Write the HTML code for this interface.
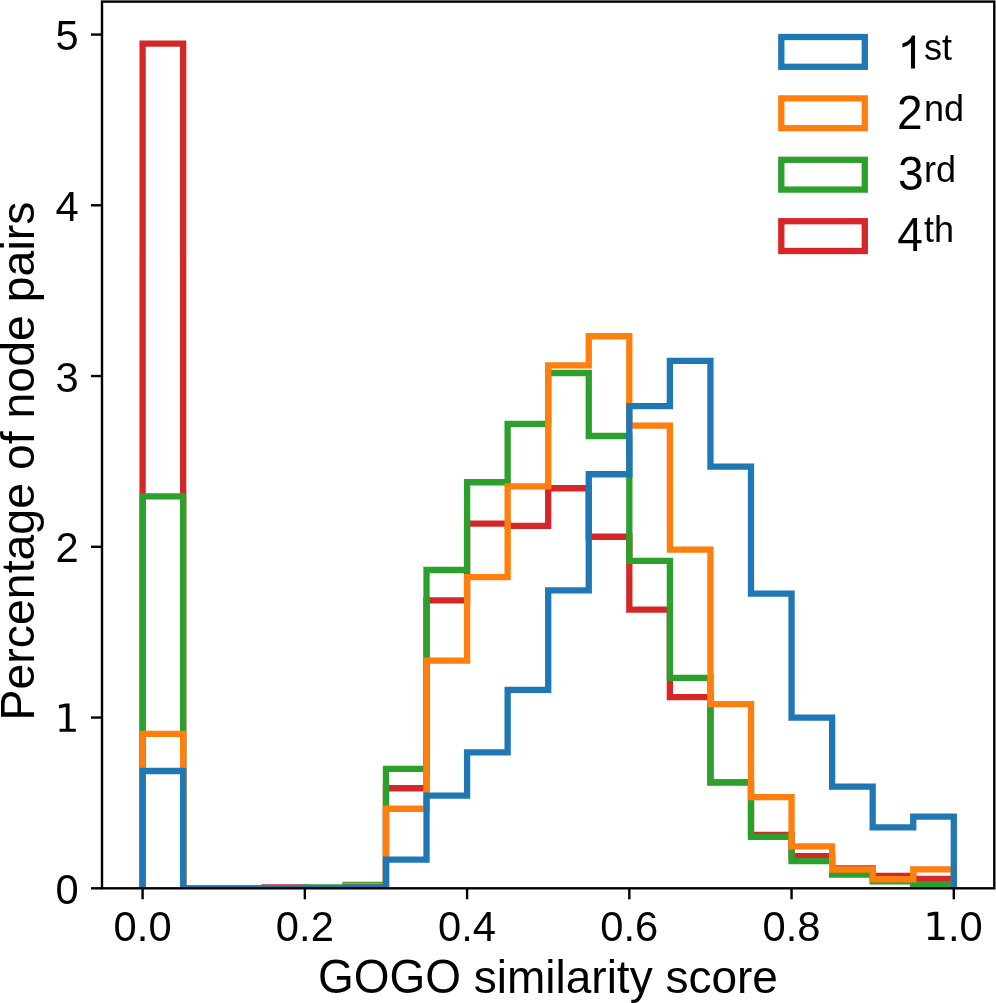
<!DOCTYPE html>
<html><head><meta charset="utf-8"><style>
html,body{margin:0;padding:0;background:#fff;}
svg{display:block;}
text{font-family:"Liberation Sans",sans-serif;fill:#000;}
</style></head><body>
<svg width="996" height="1003" viewBox="0 0 996 1003">
<rect x="0" y="0" width="996" height="1003" fill="#fff"/>
<defs><clipPath id="ax"><rect x="102.00" y="1.60" width="892.30" height="886.70"/></clipPath></defs>
<g clip-path="url(#ax)">
<path d="M142.60 888.30 L142.60 43.60 L183.16 43.60 L183.16 888.30 L223.72 888.30 L223.72 888.30 L264.28 888.30 L264.28 887.45 L304.84 887.45 L304.84 888.30 L345.40 888.30 L345.40 888.30 L385.96 888.30 L385.96 788.24 L426.52 788.24 L426.52 600.42 L467.08 600.42 L467.08 523.58 L507.64 523.58 L507.64 525.97 L548.20 525.97 L548.20 488.23 L588.76 488.23 L588.76 536.73 L629.32 536.73 L629.32 609.64 L669.88 609.64 L669.88 697.06 L710.44 697.06 L710.44 782.43 L751.00 782.43 L751.00 834.86 L791.56 834.86 L791.56 856.20 L832.12 856.20 L832.12 868.32 L872.68 868.32 L872.68 876.01 L913.24 876.01 L913.24 878.91 L953.80 878.91 L953.80 888.30" fill="none" stroke="#d62728" stroke-width="6.30" stroke-linejoin="miter" stroke-linecap="butt"/>
<path d="M142.60 888.30 L142.60 496.43 L183.16 496.43 L183.16 888.30 L223.72 888.30 L223.72 888.30 L264.28 888.30 L264.28 888.30 L304.84 888.30 L304.84 887.45 L345.40 887.45 L345.40 884.88 L385.96 884.88 L385.96 768.95 L426.52 768.95 L426.52 570.02 L467.08 570.02 L467.08 482.26 L507.64 482.26 L507.64 423.86 L548.20 423.86 L548.20 372.98 L588.76 372.98 L588.76 435.98 L629.32 435.98 L629.32 560.97 L669.88 560.97 L669.88 677.94 L710.44 677.94 L710.44 782.43 L751.00 782.43 L751.00 836.90 L791.56 836.90 L791.56 861.15 L832.12 861.15 L832.12 874.64 L872.68 874.64 L872.68 881.30 L913.24 881.30 L913.24 884.03 L953.80 884.03 L953.80 888.30" fill="none" stroke="#2ca02c" stroke-width="6.30" stroke-linejoin="miter" stroke-linecap="butt"/>
<path d="M142.60 888.30 L142.60 733.94 L183.16 733.94 L183.16 888.30 L223.72 888.30 L223.72 888.30 L264.28 888.30 L264.28 888.30 L304.84 888.30 L304.84 888.30 L345.40 888.30 L345.40 885.91 L385.96 885.91 L385.96 808.73 L426.52 808.73 L426.52 660.69 L467.08 660.69 L467.08 577.19 L507.64 577.19 L507.64 486.35 L548.20 486.35 L548.20 365.29 L588.76 365.29 L588.76 336.27 L629.32 336.27 L629.32 425.57 L669.88 425.57 L669.88 549.70 L710.44 549.70 L710.44 704.06 L751.00 704.06 L751.00 797.12 L791.56 797.12 L791.56 846.30 L832.12 846.30 L832.12 869.52 L872.68 869.52 L872.68 879.25 L913.24 879.25 L913.24 869.35 L953.80 869.35 L953.80 888.30" fill="none" stroke="#ff7f0e" stroke-width="6.30" stroke-linejoin="miter" stroke-linecap="butt"/>
<path d="M142.60 888.30 L142.60 770.99 L183.16 770.99 L183.16 888.30 L223.72 888.30 L223.72 888.30 L264.28 888.30 L264.28 888.30 L304.84 888.30 L304.84 888.30 L345.40 888.30 L345.40 887.45 L385.96 887.45 L385.96 859.61 L426.52 859.61 L426.52 795.58 L467.08 795.58 L467.08 752.38 L507.64 752.38 L507.64 689.89 L548.20 689.89 L548.20 590.34 L588.76 590.34 L588.76 474.23 L629.32 474.23 L629.32 406.10 L669.88 406.10 L669.88 360.85 L710.44 360.85 L710.44 466.72 L751.00 466.72 L751.00 593.59 L791.56 593.59 L791.56 717.72 L832.12 717.72 L832.12 786.53 L872.68 786.53 L872.68 827.34 L913.24 827.34 L913.24 816.58 L953.80 816.58 L953.80 888.30" fill="none" stroke="#1f77b4" stroke-width="6.30" stroke-linejoin="miter" stroke-linecap="butt"/>
</g>
<rect x="102.00" y="1.60" width="892.30" height="886.70" fill="none" stroke="#000" stroke-width="2.40" stroke-linejoin="miter"/>
<g stroke="#000" stroke-width="2.40"><line x1="142.60" y1="888.30" x2="142.60" y2="899.30"/><line x1="304.84" y1="888.30" x2="304.84" y2="899.30"/><line x1="467.08" y1="888.30" x2="467.08" y2="899.30"/><line x1="629.32" y1="888.30" x2="629.32" y2="899.30"/><line x1="791.56" y1="888.30" x2="791.56" y2="899.30"/><line x1="953.80" y1="888.30" x2="953.80" y2="899.30"/><line x1="102.00" y1="888.30" x2="91.00" y2="888.30"/><line x1="102.00" y1="717.55" x2="91.00" y2="717.55"/><line x1="102.00" y1="546.80" x2="91.00" y2="546.80"/><line x1="102.00" y1="376.05" x2="91.00" y2="376.05"/><line x1="102.00" y1="205.30" x2="91.00" y2="205.30"/><line x1="102.00" y1="34.55" x2="91.00" y2="34.55"/></g>
<g opacity="0.999">
<g font-size="41.7"><text x="142.60" y="940.50" text-anchor="middle">0.0</text>
<text x="304.84" y="940.50" text-anchor="middle">0.2</text>
<text x="467.08" y="940.50" text-anchor="middle">0.4</text>
<text x="629.32" y="940.50" text-anchor="middle">0.6</text>
<text x="791.56" y="940.50" text-anchor="middle">0.8</text>
<path d="M928.25 936.76 L934.50 936.76 L934.50 915.18 L927.70 916.54 L927.70 913.05 L934.47 911.69 L938.29 911.69 L938.29 936.76 L944.55 936.76 L944.55 939.90 L928.25 939.90Z" fill="#000"/>
<text x="948.01" y="940.50">.0</text>
<text x="78.80" y="903.80" text-anchor="end">0</text>
<path d="M59.51 728.66 L65.76 728.66 L65.76 707.08 L58.96 708.44 L58.96 704.95 L65.73 703.59 L69.55 703.59 L69.55 728.66 L75.81 728.66 L75.81 731.80 L59.51 731.80Z" fill="#000"/>
<text x="78.80" y="562.30" text-anchor="end">2</text>
<text x="78.80" y="391.55" text-anchor="end">3</text>
<text x="78.80" y="220.80" text-anchor="end">4</text>
<text x="78.80" y="50.05" text-anchor="end">5</text></g>
<text transform="translate(317.88 992.90) scale(1 1.045)" font-size="46.00">GOGO</text><text x="473.78" y="992.90" font-size="46.00">similarity score</text>
<text transform="translate(34.00 720.52) rotate(-90) scale(1 1.045)" font-size="46.45">P</text><text transform="translate(34.00 689.53) rotate(-90)" font-size="46.45">ercentage of node pairs</text>
<rect x="781.30" y="37.00" width="83.50" height="29.80" fill="none" stroke="#1f77b4" stroke-width="6.30"/>
<path d="M915.04 68.40 L910.99 68.40 L910.99 42.64 L909.53 44.03 L907.63 45.42 L905.74 46.28 L904.41 46.84 L902.39 47.40 L902.39 43.47 L905.09 42.57 L907.33 41.45 L909.24 39.87 L910.52 38.30 L911.33 36.95 L911.83 35.47 L915.04 35.47Z" fill="#000"/>
<text x="924.08" y="59.80" font-size="36.00">st</text>
<rect x="781.30" y="98.40" width="83.50" height="29.80" fill="none" stroke="#ff7f0e" stroke-width="6.30"/>
<text transform="translate(897.00 129.10) scale(1 1.045)" font-size="46.00">2</text>
<text x="924.08" y="120.50" font-size="36.00">nd</text>
<rect x="781.30" y="159.80" width="83.50" height="29.80" fill="none" stroke="#2ca02c" stroke-width="6.30"/>
<text transform="translate(898.00 190.40) scale(1 1.045)" font-size="46.00">3</text>
<text x="924.08" y="181.80" font-size="36.00">rd</text>
<rect x="781.30" y="221.20" width="83.50" height="29.80" fill="none" stroke="#d62728" stroke-width="6.30"/>
<text transform="translate(897.30 250.50) scale(1 1.045)" font-size="46.00">4</text>
<text x="924.08" y="241.90" font-size="36.00">th</text>
</g>
</svg>
</body></html>
